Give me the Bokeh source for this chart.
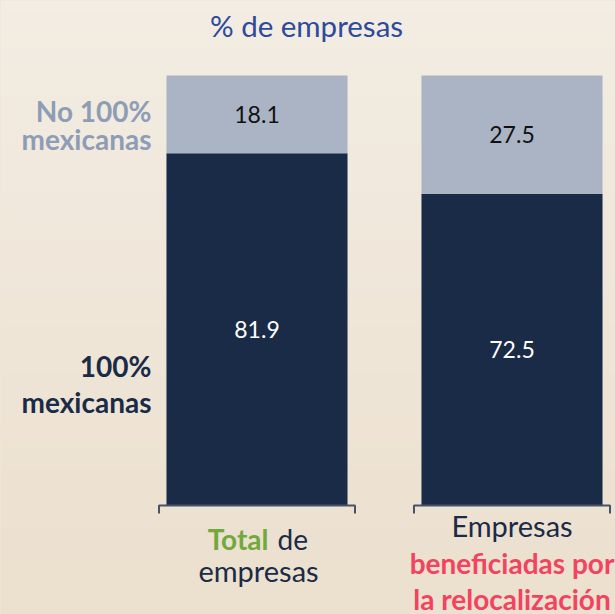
import numpy as np
from bokeh.plotting import figure
from bokeh.models import ColumnDataSource
from bokeh.embed import file_html
from bokeh.resources import INLINE
from bokeh.core.properties import value

# ---------------- data ----------------
categories = ["Total de empresas", "Empresas beneficiadas por la relocalización"]
mexicanas = [81.9, 72.5]          # 100% mexicanas
no_mexicanas = [18.1, 27.5]       # No 100% mexicanas
series_names = ["100% mexicanas", "No 100% mexicanas"]
title_text = "% de empresas"

# ---------------- layout ----------------
W, H = 615, 614
PX_X = 255.0   # pixels per category step
PX_Y = 4.3     # pixels per percentage point
x_start = -256.5 / PX_X
y_start = -(H - 505.0) / PX_Y

FONT = "Lato"
NAVY = "#1a2b47"
LIGHT = "#aab4c4"
BLUE = "#2d4a9b"
GREY_TXT = "#8e9db6"
GREEN = "#72a83c"
RED = "#f2435f"

p = figure(width=W, height=H,
           x_range=(x_start, x_start + W / PX_X),
           y_range=(y_start, y_start + H / PX_Y),
           x_axis_type=None, y_axis_type=None,
           output_backend="svg", toolbar_location=None, min_border=0)
p.outline_line_color = None
p.grid.visible = False
p.background_fill_color = "#f0e7d9"
p.border_fill_color = "#f0e7d9"

# subtle vertical background gradient
N = 64
img = np.empty((N, 1), dtype=np.uint32)
view = img.view(dtype=np.uint8).reshape((N, 1, 4))
top_c = np.array([0xf3, 0xed, 0xe3])
bot_c = np.array([0xec, 0xe0, 0xce])
for r in range(N):
    t = r / (N - 1)
    c = bot_c * (1 - t) + top_c * t
    view[r, 0, 0:3] = c.astype(np.uint8)
    view[r, 0, 3] = 255
p.image_rgba(image=[img], x=x_start, y=y_start, dw=W / PX_X, dh=H / PX_Y, level="image")

xs = list(range(len(categories)))
totals = [m + n for m, n in zip(mexicanas, no_mexicanas)]
src = ColumnDataSource(dict(x=xs, mex=mexicanas, nomex=no_mexicanas, tot=totals,
                            mid_mex=[m / 2 for m in mexicanas],
                            mid_nomex=[m + n / 2 for m, n in zip(mexicanas, no_mexicanas)],
                            lab_mex=[f"{v:.1f}" for v in mexicanas],
                            lab_nomex=[f"{v:.1f}" for v in no_mexicanas]))

BAR_W = 0.71
p.vbar(x="x", width=BAR_W, bottom=0, top="mex", source=src, fill_color=NAVY, line_color=None)
p.vbar(x="x", width=BAR_W, bottom="mex", top="tot", source=src, fill_color=LIGHT, line_color=None)

# bracket-style category axis
HW = 98 / PX_X
TK = 8 / PX_Y
bx = [[i - HW, i - HW, i + HW, i + HW] for i in xs]
by = [[-TK, 0, 0, -TK] for _ in xs]
p.multi_line(xs=bx, ys=by, line_color="#46526a", line_width=2)

# value labels
p.text(x="x", y="mid_mex", text="lab_mex", source=src, text_color="white",
       text_font=value(FONT), text_font_size="23px", text_align="center", text_baseline="middle")
p.text(x="x", y="mid_nomex", text="lab_nomex", source=src, text_color="#111111",
       text_font=value(FONT), text_font_size="23px", text_align="center", text_baseline="middle")

# series labels on the left (anchored to first bar's segments)
lx = xs[0]
p.text(x=[lx, lx], y=[mexicanas[0] + no_mexicanas[0] / 2] * 2, text=["No 100%", "mexicanas"],
       y_offset=[-3.5, 25], x_offset=-105.5, text_color=GREY_TXT, text_font=value(FONT),
       text_font_size="28px", text_font_style="bold", text_align="right", text_baseline="middle")
p.text(x=[lx, lx], y=[mexicanas[0] / 2] * 2, text=["100%", "mexicanas"],
       y_offset=[37, 73], x_offset=-105.5, text_color=NAVY, text_font=value(FONT),
       text_font_size="28px", text_font_style="bold", text_align="right", text_baseline="middle")

# category labels
p.text(x=[xs[0]], y=[0], text=["Total"], x_offset=11.5, y_offset=33, text_color=GREEN,
       text_font=value(FONT), text_font_size="28px", text_font_style="bold",
       text_align="right", text_baseline="middle")
p.text(x=[xs[0]], y=[0], text=["de"], x_offset=20.5, y_offset=33, text_color=NAVY,
       text_font=value(FONT), text_font_size="28px", text_align="left", text_baseline="middle")
p.text(x=[xs[0]], y=[0], text=["empresas"], x_offset=1.5, y_offset=65, text_color=NAVY,
       text_font=value(FONT), text_font_size="29px", text_align="center", text_baseline="middle")

p.text(x=[xs[1]], y=[0], text=["Empresas"], x_offset=0, y_offset=20, text_color=NAVY,
       text_font=value(FONT), text_font_size="29px", text_align="center", text_baseline="middle")
p.text(x=[xs[1], xs[1]], y=[0, 0], text=["beneficiadas por", "la relocalización"],
       x_offset=0, y_offset=[57.5, 93], text_color=RED,
       text_font=value(FONT), text_font_size="28px", text_font_style="bold",
       text_align="center", text_baseline="middle")

# title (anchored above the first bar's top)
p.text(x=[xs[0]], y=[totals[0]], text=[title_text], x_offset=49.5, y_offset=-50,
       text_color=BLUE, text_font=value(FONT), text_font_size="29.5px",
       text_align="center", text_baseline="middle")

html = file_html(p, INLINE)
html = html.replace("</head>",
                    "<style>html,body{margin:0;padding:0;overflow:hidden;background:#f0e7d9;}</style></head>", 1)
open("out.html", "w").write(html)
